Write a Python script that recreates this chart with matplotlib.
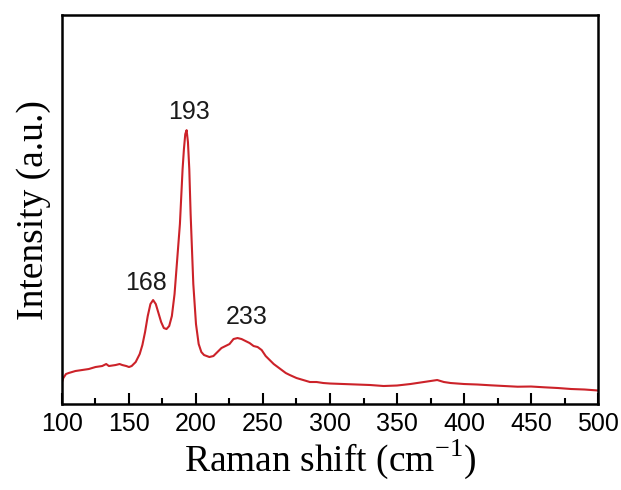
import matplotlib
matplotlib.use("Agg")
from matplotlib import pyplot as plt
from matplotlib.ticker import MultipleLocator

# Raman shift (cm^-1) and intensity (arb. units)
shift=[100,101,103,105,110,115,120,125,130,133,135,140,143,145,148,150,152,155,158,160,
       162,164,166,168,170,172,174,176,178,180,182,184,186,188,190,191,192,193,194,195,
       196,198,200,202,204,206,208,210,213,216,219,222,225,228,231,234,237,240,243,246,
       249,252,255,258,261,264,267,270,275,280,285,290,295,300,310,320,330,340,350,360,
       370,375,380,385,390,400,410,420,430,440,450,460,470,480,490,500]
intensity=[22,26,30,31,33,34,35,37,38,40,38,39,40,39,38,37,38,42,50,59,
           72,88,100,104,100,91,82,76,75,78,88,110,145,180,235,255,270,274,262,235,
           190,120,80,60,52,49,48,47,48,52,56,58,60,65,66,65,63,61,58,57,
           54,48,44,40,37,34,31,29,26,24,22,22,21,20.5,20,19.5,19,18,18.5,20,
           22,23,24,22,21,20,19.5,18.7,18,17.3,17.5,16.7,16,15,14.5,13.5]

peak_labels=["168","193","233"]
peak_pos=[(162.7,121),(194.5,292),(237.8,87)]

plt.rcParams["mathtext.fontset"]="custom"
plt.rcParams["mathtext.rm"]="Liberation Serif"

fig=plt.figure(figsize=(6.21,4.90),dpi=100)
ax=fig.add_axes([0.0998,0.1755,0.8632,0.7935])
ax.plot(shift,intensity,color="#cc2229",lw=1.5)

for lab,(px,py) in zip(peak_labels,peak_pos):
    ax.text(px,py,lab,ha="center",va="center",fontsize=18,family="Liberation Sans",color="#1a1a1a")

ax.set_xlim(100,500)
ax.set_ylim(0,389)
ax.xaxis.set_major_locator(MultipleLocator(50))
ax.xaxis.set_minor_locator(MultipleLocator(25))
ax.set_yticks([])
ax.tick_params(axis="x",which="major",direction="in",length=8,width=1.5,labelsize=18,pad=6)
ax.tick_params(axis="x",which="minor",direction="in",length=4,width=1.5)
for t in ax.get_xticklabels():
    t.set_family("Liberation Sans")
for s in ax.spines.values():
    s.set_linewidth(1.8)

ax.set_xlabel(r"Raman shift (cm$^{\mathrm{-1}}$)",family="Liberation Serif",fontsize=27,labelpad=1)
ax.set_ylabel("Intensity (a.u.)",family="Liberation Serif",fontsize=27,labelpad=8)

fig.savefig("out.png",dpi=100)
